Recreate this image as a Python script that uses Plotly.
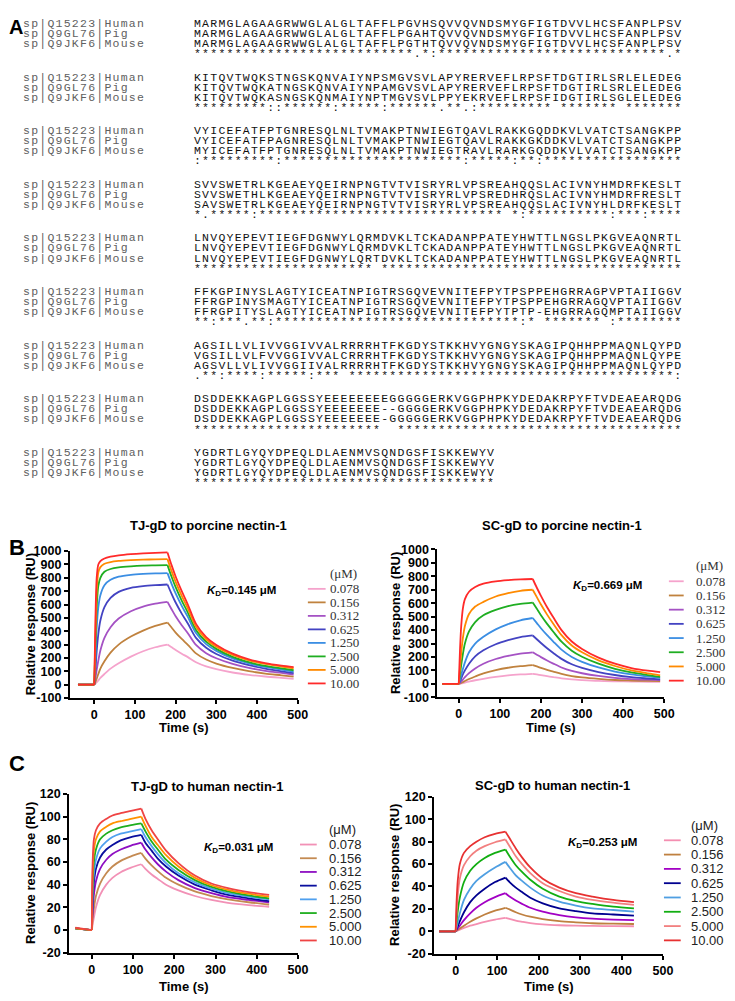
import plotly.graph_objects as go

W, H = 735, 1001
PAGE_OFFSET = 8  # default body margin of the written html page

# ---------------- panel A : sequence alignment ----------------
labels = ["sp|Q15223|Human", "sp|Q9GL76|Pig", "sp|Q9JKF6|Mouse"]

human = [
    "MARMGLAGAAGRWWGLALGLTAFFLPGVHSQVVQVNDSMYGFIGTDVVLHCSFANPLPSV",
    "KITQVTWQKSTNGSKQNVAIYNPSMGVSVLAPYRERVEFLRPSFTDGTIRLSRLELEDEG",
    "VYICEFATFPTGNRESQLNLTVMAKPTNWIEGTQAVLRAKKGQDDKVLVATCTSANGKPP",
    "SVVSWETRLKGEAEYQEIRNPNGTVTVISRYRLVPSREAHQQSLACIVNYHMDRFKESLT",
    "LNVQYEPEVTIEGFDGNWYLQRMDVKLTCKADANPPATEYHWTTLNGSLPKGVEAQNRTL",
    "FFKGPINYSLAGTYICEATNPIGTRSGQVEVNITEFPYTPSPPEHGRRAGPVPTAIIGGV",
    "AGSILLVLIVVGGIVVALRRRRHTFKGDYSTKKHVYGNGYSKAGIPQHHPPMAQNLQYPD",
    "DSDDEKKAGPLGGSSYEEEEEEEEGGGGGERKVGGPHPKYDEDAKRPYFTVDEAEARQDG",
    "YGDRTLGYQYDPEQLDLAENMVSQNDGSFISKKEWYV",
]
pig = [
    "MARMGLAGAAGRWWGLALGLTAFFLPGAHTQVVQVNDSMYGFIGTDVVLHCSFANPLPSV",
    "KITQVTWQKATNGSKQNVAIYNPAMGVSVLAPYRERVEFLRPSFTDGTIRLSRLELEDEG",
    "VYICEFATFPAGNRESQLNLTVMAKPTNWIEGTQAVLRAKKGKDDKVLVATCTSANGKPP",
    "SVVSWETHLKGEAEYQEIRNPNGTVTVISRYRLVPSREDHRQSLACIVNYHMDRFRESLT",
    "LNVQYEPEVTIEGFDGNWYLQRMDVKLTCKADANPPATEYHWTTLNGSLPKGVEAQNRTL",
    "FFRGPINYSMAGTYICEATNPIGTRSGQVEVNITEFPYTPSPPEHGRRAGQVPTAIIGGV",
    "VGSILLVLFVVGGIVVALCRRRHTFKGDYSTKKHVYGNGYSKAGIPQHHPPMAQNLQYPE",
    "DSDDEKKAGPLGGSSYEEEEEEE--GGGGERKVGGPHPKYDEDAKRPYFTVDEAEARQDG",
    "YGDRTLGYQYDPEQLDLAENMVSQNDGSFISKKEWYV",
]
mouse = [
    "MARMGLAGAAGRWWGLALGLTAFFLPGTHTQVVQVNDSMYGFIGTDVVLHCSFANPLPSV",
    "KITQVTWQKASNGSKQNMAIYNPTMGVSVLPPYEKRVEFLRPSFIDGTIRLSGLELEDEG",
    "MYICEFATFPTGNRESQLNLTVMAKPTNWIEGTRAVLRARKGQDDKVLVATCTSANGKPP",
    "SAVSWETRLKGEAEYQEIRNPNGTVTVISRYRLVPSREAHQQSLACIVNYHLDRFKESLT",
    "LNVQYEPEVTIEGFDGNWYLQRTDVKLTCKADANPPATEYHWTTLNGSLPKGVEAQNRTL",
    "FFRGPITYSLAGTYICEATNPIGTRSGQVEVNITEFPYTPTP-EHGRRAGQMPTAIIGGV",
    "AGSVLLVLIVVGGIIVALRRRRHTFKGDYSTKKHVYGNGYSKAGIPQHHPPMAQNLQYPD",
    "DSDDEKKAGPLGGSSYEEEEEEE-GGGGGERKVGGPHPKYDEDAKRPYFTVDEAEARQDG",
    "YGDRTLGYQYDPEQLDLAENMVSQNDGSFISKKEWYV",
]
consensus = [
    "*" * 27 + ".*:" + "*" * 28 + ".*",
    "*" * 9 + "::" + "*" * 6 + ":" + "*" * 5 + ":" + "*" * 6 + ".**.:" + "*" * 9 + " " + "*" * 7 + " " + "*" * 7,
    ":" + "*" * 9 + ":" + "*" * 22 + ":" + "*" * 5 + ":" + "**" + ":" + "*" * 17,
    "*." + "*" * 5 + ":" + "*" * 30 + " *:" + "*" * 10 + ":" + "***" + ":" + "****",
    "*" * 22 + " " + "*" * 37,
    "**:***.**:" + "*" * 30 + ":* " + "*" * 7 + " :" + "*" * 8,
    ".**:****:*****:***" + " " + "*" * 40 + ":",
    "*" * 23 + "  " + "*" * 35,
    "*" * 37,
]

# ---------------- panels B and C : SPR sensorgrams ----------------
concs = ["0.078", "0.156", "0.312", "0.625", "1.250", "2.500", "5.000", "10.00"]

# time (s) for porcine nectin-1 runs, injection 0-180 s
b_time = [-40, -20, 0, 3, 6, 10, 15, 25, 40, 60, 90, 120, 150, 180,
          190, 200, 215, 230, 250, 275, 300, 340, 380, 420, 460, 490]

tj_pig = [
    [0, 0, 0, 8, 18, 32, 50, 80, 120, 160, 210, 250, 280, 300,
     280, 260, 232, 206, 168, 137, 116, 91, 74, 61, 51, 44],
    [0, 0, 0, 20, 45, 80, 120, 175, 240, 300, 360, 405, 440, 465,
     428, 390, 342, 298, 234, 188, 158, 125, 101, 83, 70, 60],
    [0, 0, 0, 50, 110, 180, 255, 350, 430, 495, 550, 585, 606, 620,
     565, 512, 445, 385, 297, 236, 198, 156, 126, 104, 88, 76],
    [0, 0, 0, 110, 250, 380, 480, 580, 650, 695, 725, 738, 745, 750,
     680, 615, 532, 458, 350, 276, 230, 180, 146, 120, 100, 86],
    [0, 0, 0, 200, 420, 580, 670, 745, 785, 808, 822, 829, 833, 835,
     755, 683, 590, 507, 386, 303, 253, 197, 160, 133, 113, 98],
    [0, 0, 0, 300, 580, 740, 800, 845, 866, 878, 886, 891, 893, 895,
     808, 730, 630, 540, 410, 322, 268, 208, 168, 140, 122, 108],
    [0, 0, 0, 400, 700, 840, 880, 905, 918, 926, 932, 936, 938, 940,
     850, 770, 665, 570, 433, 340, 283, 222, 182, 155, 136, 122],
    [0, 0, 0, 500, 800, 900, 925, 945, 958, 968, 977, 983, 987, 990,
     895, 810, 700, 600, 455, 356, 297, 232, 190, 162, 143, 132],
]

sc_pig = [
    [0, 0, 0, 1, 3, 6, 10, 17, 27, 38, 52, 63, 70, 75,
     70, 65, 57, 50, 41, 33, 28, 22, 19, 17, 16, 16],
    [0, 0, 0, 3, 7, 13, 21, 36, 55, 78, 102, 120, 132, 140,
     130, 119, 104, 91, 74, 58, 48, 37, 29, 25, 22, 21],
    [0, 0, 0, 8, 18, 32, 50, 80, 115, 150, 185, 208, 225, 235,
     217, 199, 174, 151, 122, 96, 79, 59, 45, 36, 31, 28],
    [0, 0, 0, 18, 40, 70, 100, 150, 205, 250, 295, 325, 348, 360,
     332, 304, 265, 230, 186, 146, 119, 88, 66, 50, 40, 33],
    [0, 0, 0, 30, 65, 110, 160, 235, 300, 350, 405, 445, 473, 490,
     452, 414, 362, 315, 255, 200, 164, 122, 92, 70, 55, 45],
    [0, 0, 0, 70, 140, 220, 300, 390, 460, 510, 550, 578, 595, 605,
     558, 510, 446, 388, 314, 247, 202, 150, 112, 85, 65, 52],
    [0, 0, 0, 120, 230, 340, 430, 520, 575, 610, 650, 675, 692, 700,
     645, 590, 515, 447, 362, 285, 235, 175, 133, 100, 78, 64],
    [0, 0, 0, 250, 430, 560, 630, 685, 720, 745, 762, 771, 777, 780,
     715, 655, 570, 495, 400, 315, 260, 195, 150, 118, 98, 88],
]

# time (s) for human nectin-1 runs, injection 0-120 s
c_time = [-40, -20, -2, 0, 2, 5, 10, 20, 35, 50, 70, 95, 120,
          130, 145, 160, 180, 210, 250, 290, 330, 380, 430]

tj_human = [
    [1.5, 1, 0.3, 0, 5, 11, 20, 31, 40, 46, 51, 55, 58,
     54, 49, 45, 40, 35, 30, 26.5, 24, 22, 20.5],
    [1.5, 1, 0.3, 0, 10, 19, 30, 41, 50, 56, 61, 65, 68,
     63, 57, 52, 46, 40, 34, 30, 27, 24.5, 22.5],
    [1.5, 1, 0.3, 0, 17, 31, 43, 54, 62, 67, 71, 74.5, 77,
     71, 64, 58, 51.5, 44, 37, 32.5, 29, 26.5, 24.5],
    [1.5, 1, 0.3, 0, 25, 42, 54, 64, 71, 75, 79, 82, 84,
     77, 70, 63, 56, 48, 40, 35, 31, 28, 25.5],
    [1.5, 1, 0.3, 0, 32, 50, 62, 72, 78, 82, 85, 87, 89,
     82, 74, 67, 59, 50, 42, 36.5, 32.5, 29.5, 27],
    [1.5, 1, 0.3, 0, 40, 60, 71, 80, 85, 88, 90.5, 92.5, 94,
     87, 78, 71, 62, 53, 44, 38, 34, 30.5, 28],
    [1.5, 1, 0.3, 0, 50, 70, 80, 87, 91, 94, 96, 98, 100,
     92, 82, 75, 66, 56, 46, 39.5, 35.5, 32, 29.5],
    [2, 1.2, 0.3, 0, 60, 80, 88, 94, 98, 101, 103, 105, 107,
     98, 88, 80, 70, 59, 48, 41, 37, 33.5, 31],
]

sc_human = [
    [0, 0, 0, 0, 0.3, 0.7, 1.5, 3, 5, 6.5, 8.5, 10.5, 12,
     11, 9.5, 8.5, 7.3, 6.2, 5.4, 5, 4.8, 4.6, 4.5],
    [0, 0, 0, 0, 0.5, 1.2, 2.5, 5, 8.5, 11.5, 15, 18.5, 21,
     19.5, 17, 15, 13, 10.8, 9, 8, 7.2, 6.8, 6.5],
    [0, 0, 0, 0, 1, 2.5, 5, 10, 16, 21, 26, 30.5, 34,
     31, 27.5, 24.5, 21, 17.5, 14.5, 12.5, 11.3, 10.5, 10],
    [0, 0, 0, 0, 2, 4.5, 9, 17, 26, 32, 38, 44, 48,
     44, 39, 35, 30, 25, 20.5, 18, 16, 15, 14],
    [0, 0, 0, 0, 3, 8, 16, 28, 38, 45, 51, 57, 62,
     57, 50, 45, 39, 32, 26.5, 23, 20.5, 19, 17.5],
    [0, 0, 0, 0, 8, 18, 30, 44, 54, 60, 65.5, 70, 73,
     67, 59, 53, 46, 38, 31, 27, 24.5, 22, 20.5],
    [0, 0, 0, 0, 15, 32, 47, 59, 67, 72, 76, 79.5, 82,
     76, 67, 60, 52, 43, 36, 31, 28, 25.5, 23.5],
    [0, 0, 0, 0, 25, 45, 60, 70, 76, 80, 84, 87, 89,
     83, 74, 66, 57, 47, 39, 34, 31, 28, 26],
]

b_colors = ["#f5a3cc", "#c0823e", "#a552c4", "#4343c2", "#3b8ee3", "#1fae22", "#ff8a00", "#ff2a2a"]
c1_colors = ["#f291b6", "#c48a52", "#8e0fc2", "#0a0f9e", "#4fa0ef", "#1eae1e", "#ff9200", "#ef4444"]
c2_colors = ["#f48fb1", "#bf8040", "#a200c4", "#00008f", "#4f9fe2", "#12ae12", "#f28080", "#e73131"]

b_yticks = [-100, 0, 100, 200, 300, 400, 500, 600, 700, 800, 900, 1000]
c_yticks = [-20, 0, 20, 40, 60, 80, 100, 120]
x_ticks = [0, 100, 200, 300, 400, 500]


def xp(px):
    return (px - PAGE_OFFSET) / W


def yp(py):
    return 1 - (py - PAGE_OFFSET) / H


serif_leg = dict(family="Liberation Serif", size=13, color="#333")
sans_leg = dict(family="Liberation Sans", size=13, color="#222")

panels = [
    dict(title="TJ-gD to porcine nectin-1", kd="0.145", time=b_time, data=tj_pig, colors=b_colors,
         inj_end=180, xr=[-60, 500], yr=[-100, 1000], yticks=b_yticks,
         box=(70.7, 301.7, 551.7, 700.7), title_xy=(211, 526), kd_xy=(245, 592),
         ytitle_x=31, xtitle_y=731, leg=(312, 330, 333.5, 574.3, 590, 13.7), leg_font=serif_leg),
    dict(title="SC-gD to porcine nectin-1", kd="0.669", time=b_time, data=sc_pig, colors=b_colors,
         inj_end=180, xr=[-52, 500], yr=[-100, 1000], yticks=b_yticks,
         box=(443.3, 673.3, 550, 700), title_xy=(570, 526), kd_xy=(616, 587),
         ytitle_x=401, xtitle_y=731, leg=(678, 693, 704, 566.7, 582.3, 14.4), leg_font=serif_leg),
    dict(title="TJ-gD to human nectin-1", kd="0.031", time=c_time, data=tj_human, colors=c1_colors,
         inj_end=120, xr=[-55, 500], yr=[-20, 120], yticks=c_yticks,
         box=(70, 302, 798, 959), title_xy=(210, 790), kd_xy=(242, 853),
         ytitle_x=31, xtitle_y=993, leg=(304, 321, 332, 834, 849.3, 13.9), leg_font=sans_leg),
    dict(title="SC-gD to human nectin-1", kd="0.253", time=c_time, data=sc_human, colors=c2_colors,
         inj_end=120, xr=[-52, 500], yr=[-20, 120], yticks=c_yticks,
         box=(440, 672, 801, 960), title_xy=(560, 789), kd_xy=(611, 848),
         ytitle_x=400, xtitle_y=993, leg=(673, 690, 699, 830, 845, 14.5), leg_font=sans_leg),
]

fig = go.Figure()
annotations = []
shapes = []

for k, p in enumerate(panels):
    sfx = "" if k == 0 else str(k + 1)
    t = p["time"]
    i0 = t.index(0)
    i1 = t.index(p["inj_end"])
    for i, ys in enumerate(p["data"]):
        for a, b, shape in [(0, i0 + 1, "linear"), (i0, i1 + 1, "spline"), (i1, len(t), "spline")]:
            fig.add_trace(go.Scatter(
                x=t[a:b], y=ys[a:b], mode="lines", showlegend=False,
                line=dict(color=p["colors"][i], width=1.8, shape=shape, smoothing=0.8),
                xaxis="x" + sfx, yaxis="y" + sfx, hoverinfo="skip"))

    x0, x1, y0, y1 = p["box"]
    axis_common = dict(showline=True, linewidth=2, linecolor="black", ticks="outside",
                       ticklen=4, tickwidth=2, tickcolor="black", showgrid=False, zeroline=False,
                       tickfont=dict(family="Liberation Sans", size=12.5, color="black", weight="bold"))
    fig.update_layout({
        "xaxis" + sfx: dict(domain=[xp(x0), xp(x1)], range=p["xr"], anchor="y" + sfx,
                            tickvals=x_ticks, ticktext=[str(v) for v in x_ticks], **axis_common),
        "yaxis" + sfx: dict(domain=[yp(y1), yp(y0)], range=p["yr"], anchor="x" + sfx,
                            tickvals=p["yticks"], ticktext=[str(v) for v in p["yticks"]], **axis_common),
    })

    tx, ty = p["title_xy"]
    annotations.append(dict(text="<b>" + p["title"] + "</b>", x=xp(tx), y=yp(ty), xref="paper", yref="paper",
                            showarrow=False, xanchor="center", yanchor="middle",
                            font=dict(family="Liberation Sans", size=13, color="black")))
    kx, ky = p["kd_xy"]
    annotations.append(dict(text="<b><i>K</i><sub>D</sub>=" + p["kd"] + " \u03bcM</b>", x=xp(kx), y=yp(ky),
                            xref="paper", yref="paper", showarrow=False, xanchor="center", yanchor="middle",
                            font=dict(family="Liberation Sans", size=11.5, color="black")))
    annotations.append(dict(text="<b>Relative response (RU)</b>", x=xp(p["ytitle_x"]), y=yp((y0 + y1) / 2),
                            xref="paper", yref="paper", showarrow=False, textangle=-90,
                            xanchor="center", yanchor="middle",
                            font=dict(family="Liberation Sans", size=13, color="black")))
    annotations.append(dict(text="<b>Time (s)</b>", x=xp((x0 + x1) / 2), y=yp(p["xtitle_y"]),
                            xref="paper", yref="paper", showarrow=False, xanchor="center", yanchor="middle",
                            font=dict(family="Liberation Sans", size=13, color="black")))

    lx0, lx1, ltx, lhy, ly0, ldy = p["leg"]
    annotations.append(dict(text="(\u03bcM)", x=xp(ltx - 1), y=yp(lhy), xref="paper", yref="paper",
                            showarrow=False, xanchor="left", yanchor="middle", font=p["leg_font"]))
    for i, c in enumerate(concs):
        yy = ly0 + i * ldy
        shapes.append(dict(type="line", xref="paper", yref="paper", x0=xp(lx0), x1=xp(lx1),
                           y0=yp(yy), y1=yp(yy), line=dict(color=p["colors"][i], width=1.8)))
        annotations.append(dict(text=c, x=xp(ltx - 1), y=yp(yy), xref="paper", yref="paper",
                                showarrow=False, xanchor="left", yanchor="middle", font=p["leg_font"]))

# alignment text, one annotation per row; letter spacing widens the mono font to the 8.14 px pitch
nb = "\u00a0"
mono_size = 11.5
spacing = 8.14 - 0.6 * mono_size
lab_style = "<span style='color:#606060;letter-spacing:%.2fpx'>" % spacing
seq_style = "<span style='letter-spacing:%.2fpx'>" % spacing
for blk in range(len(human)):
    rows = [
        lab_style + labels[0] + nb * (21 - len(labels[0])) + "</span>" + seq_style + human[blk] + "</span>",
        lab_style + labels[1] + nb * (21 - len(labels[1])) + "</span>" + seq_style + pig[blk] + "</span>",
        lab_style + labels[2] + nb * (21 - len(labels[2])) + "</span>" + seq_style + mouse[blk] + "</span>",
        seq_style + nb * 21 + consensus[blk].replace(" ", nb) + "</span>",
    ]
    for r, txt in enumerate(rows):
        annotations.append(dict(text=txt, x=xp(21.7), y=yp(16.5 + 54.4 * blk + 10.2 * r),
                                xref="paper", yref="paper", showarrow=False,
                                xanchor="left", yanchor="middle", borderpad=0,
                                font=dict(family="Liberation Mono", size=mono_size, color="#111")))

# panel letters: kept just inside the figure's top-left corner
annotations.append(dict(text="<b>A</b>", x=xp(PAGE_OFFSET + 0.5), y=yp(PAGE_OFFSET), xref="paper", yref="paper",
                        showarrow=False, xanchor="left", yanchor="top", borderpad=0,
                        font=dict(family="Liberation Sans", size=20, color="black")))
for letter, ly in [("B", 548), ("C", 767)]:
    annotations.append(dict(text="<b>" + letter + "</b>", x=xp(PAGE_OFFSET + 0.5), y=yp(ly),
                            xref="paper", yref="paper", showarrow=False, xanchor="left", yanchor="middle",
                            borderpad=0, font=dict(family="Liberation Sans", size=22, color="black")))

fig.update_layout(
    width=W, height=H, margin=dict(l=0, r=0, t=0, b=0),
    paper_bgcolor="white", plot_bgcolor="white",
    annotations=annotations, shapes=shapes, showlegend=False,
)

fig.write_html("out.html")
